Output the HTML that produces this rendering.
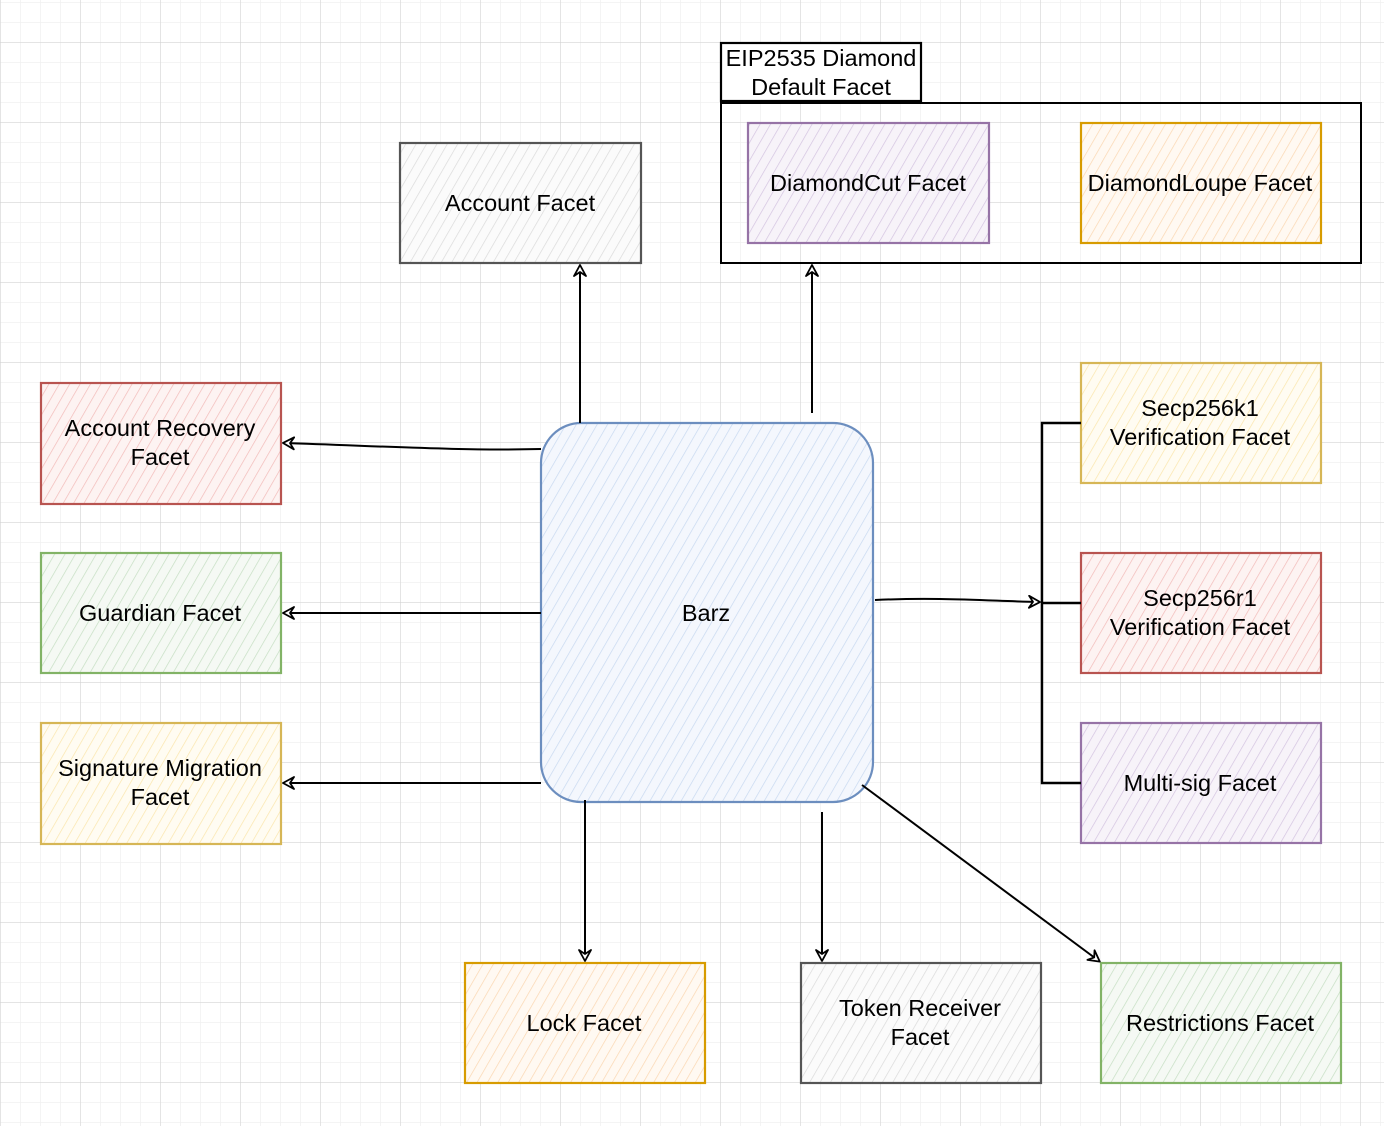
<!DOCTYPE html>
<html><head><meta charset="utf-8"><style>
html,body{margin:0;padding:0;background:#fff;}
svg{display:block;}
text{font-family:"Liberation Sans",Arial,sans-serif;font-size:23.5px;text-anchor:middle;fill:#000;}
</style></head><body>
<svg width="1384" height="1126" viewBox="0 0 1384 1126" xmlns="http://www.w3.org/2000/svg">
<defs>
<pattern id="gmin" width="20" height="20" patternUnits="userSpaceOnUse" x="0" y="2">
<path d="M0 0H20M0 0V20" stroke="#f0f0f0" stroke-width="1.5" fill="none"/>
</pattern>
<pattern id="gmaj" width="80" height="80" patternUnits="userSpaceOnUse" x="0" y="42">
<path d="M0 0H80M0 0V80" stroke="#d0d0d0" stroke-width="1" fill="none"/>
</pattern>
<pattern id="hg" width="9" height="9" patternUnits="userSpaceOnUse" patternTransform="rotate(30)"><line x1="0" y1="0" x2="0" y2="9" stroke="#dadada" stroke-width="1.4"/></pattern>
<pattern id="hp" width="9" height="9" patternUnits="userSpaceOnUse" patternTransform="rotate(30)"><line x1="0" y1="0" x2="0" y2="9" stroke="#d3c3e0" stroke-width="1.4"/></pattern>
<pattern id="ho" width="9" height="9" patternUnits="userSpaceOnUse" patternTransform="rotate(30)"><line x1="0" y1="0" x2="0" y2="9" stroke="#fad6b0" stroke-width="1.4"/></pattern>
<pattern id="hr" width="9" height="9" patternUnits="userSpaceOnUse" patternTransform="rotate(30)"><line x1="0" y1="0" x2="0" y2="9" stroke="#f1bab8" stroke-width="1.4"/></pattern>
<pattern id="hgr" width="9" height="9" patternUnits="userSpaceOnUse" patternTransform="rotate(30)"><line x1="0" y1="0" x2="0" y2="9" stroke="#c5dec2" stroke-width="1.4"/></pattern>
<pattern id="hy" width="9" height="9" patternUnits="userSpaceOnUse" patternTransform="rotate(30)"><line x1="0" y1="0" x2="0" y2="9" stroke="#fae5ab" stroke-width="1.4"/></pattern>
<pattern id="hb" width="9" height="9" patternUnits="userSpaceOnUse" patternTransform="rotate(30)"><line x1="0" y1="0" x2="0" y2="9" stroke="#c7d8f0" stroke-width="1.4"/></pattern>
<marker id="arr" markerWidth="14" markerHeight="14" refX="11" refY="7" orient="auto" markerUnits="userSpaceOnUse">
<path d="M1 1 L12 7 L1 13 L5 7 Z" fill="#fff" stroke="#000" stroke-width="1.8" stroke-linejoin="round"/>
</marker>
</defs>
<rect width="1384" height="1126" fill="url(#gmin)"/>
<rect width="1384" height="1126" fill="url(#gmaj)"/>

<g stroke-width="2.2">
<rect x="400" y="143" width="241" height="120" fill="#fbfbfb"/><rect x="400" y="143" width="241" height="120" fill="url(#hg)" stroke="#555"/>
<rect x="801" y="963" width="240" height="120" fill="#fbfbfb"/><rect x="801" y="963" width="240" height="120" fill="url(#hg)" stroke="#555"/>
<rect x="721" y="103" width="640" height="160" fill="none" stroke="#000" stroke-width="2"/>
<rect x="721" y="43" width="200" height="58" fill="#fff" stroke="#000" stroke-width="2.2"/>
<rect x="748" y="123" width="241" height="120" fill="#f7f3f9"/><rect x="748" y="123" width="241" height="120" fill="url(#hp)" stroke="#9673a6"/>
<rect x="1081" y="723" width="240" height="120" fill="#f7f3f9"/><rect x="1081" y="723" width="240" height="120" fill="url(#hp)" stroke="#9673a6"/>
<rect x="1081" y="123" width="240" height="120" fill="#fff9f2"/><rect x="1081" y="123" width="240" height="120" fill="url(#ho)" stroke="#d79b00"/>
<rect x="465" y="963" width="240" height="120" fill="#fff9f2"/><rect x="465" y="963" width="240" height="120" fill="url(#ho)" stroke="#d79b00"/>
<rect x="41" y="383" width="240" height="121" fill="#fdf3f2"/><rect x="41" y="383" width="240" height="121" fill="url(#hr)" stroke="#b85450"/>
<rect x="1081" y="553" width="240" height="120" fill="#fdf3f2"/><rect x="1081" y="553" width="240" height="120" fill="url(#hr)" stroke="#b85450"/>
<rect x="41" y="553" width="240" height="120" fill="#f5f9f4"/><rect x="41" y="553" width="240" height="120" fill="url(#hgr)" stroke="#82b366"/>
<rect x="1101" y="963" width="240" height="120" fill="#f5f9f4"/><rect x="1101" y="963" width="240" height="120" fill="url(#hgr)" stroke="#82b366"/>
<rect x="41" y="723" width="240" height="121" fill="#fffcf2"/><rect x="41" y="723" width="240" height="121" fill="url(#hy)" stroke="#d6b656"/>
<rect x="1081" y="363" width="240" height="120" fill="#fffcf2"/><rect x="1081" y="363" width="240" height="120" fill="url(#hy)" stroke="#d6b656"/>
<rect x="541" y="423" width="332" height="379" rx="40" fill="#f4f7fd"/><rect x="541" y="423" width="332" height="379" rx="40" fill="url(#hb)" stroke="#6c8ebf"/>
</g>

<g stroke="#000" stroke-width="2" fill="none">
<path d="M580 423 L580 266" marker-end="url(#arr)"/>
<path d="M812 413 L812 266" marker-end="url(#arr)"/>
<path d="M541 449 C460 451 380 446 284 443" marker-end="url(#arr)"/>
<path d="M541 613 L284 613" marker-end="url(#arr)"/>
<path d="M541 783 L284 783" marker-end="url(#arr)"/>
<path d="M585 800 L585 960" marker-end="url(#arr)"/>
<path d="M822 812 L822 960" marker-end="url(#arr)"/>
<path d="M862 785 L1099 961" marker-end="url(#arr)"/>
<path d="M875 600 C940 597 990 601 1039 602" marker-end="url(#arr)"/>
<path d="M1081 423 L1042 423 L1042 783 L1081 783 M1042 603 L1081 603" stroke-width="2.4"/>
</g>

<text x="520" y="211" fill="#333">Account Facet</text>
<text x="821" y="66">EIP2535 Diamond</text>
<text x="821" y="95">Default Facet</text>
<text x="868" y="191">DiamondCut Facet</text>
<text x="1200" y="191">DiamondLoupe Facet</text>
<text x="160" y="436">Account Recovery</text>
<text x="160" y="465">Facet</text>
<text x="160" y="621">Guardian Facet</text>
<text x="160" y="776">Signature Migration</text>
<text x="160" y="805">Facet</text>
<text x="706" y="621">Barz</text>
<text x="1200" y="416">Secp256k1</text>
<text x="1200" y="445">Verification Facet</text>
<text x="1200" y="606">Secp256r1</text>
<text x="1200" y="635">Verification Facet</text>
<text x="1200" y="791">Multi-sig Facet</text>
<text x="584" y="1031">Lock Facet</text>
<text x="920" y="1016" fill="#333">Token Receiver</text>
<text x="920" y="1045" fill="#333">Facet</text>
<text x="1220" y="1031">Restrictions Facet</text>
</svg>
</body></html>
